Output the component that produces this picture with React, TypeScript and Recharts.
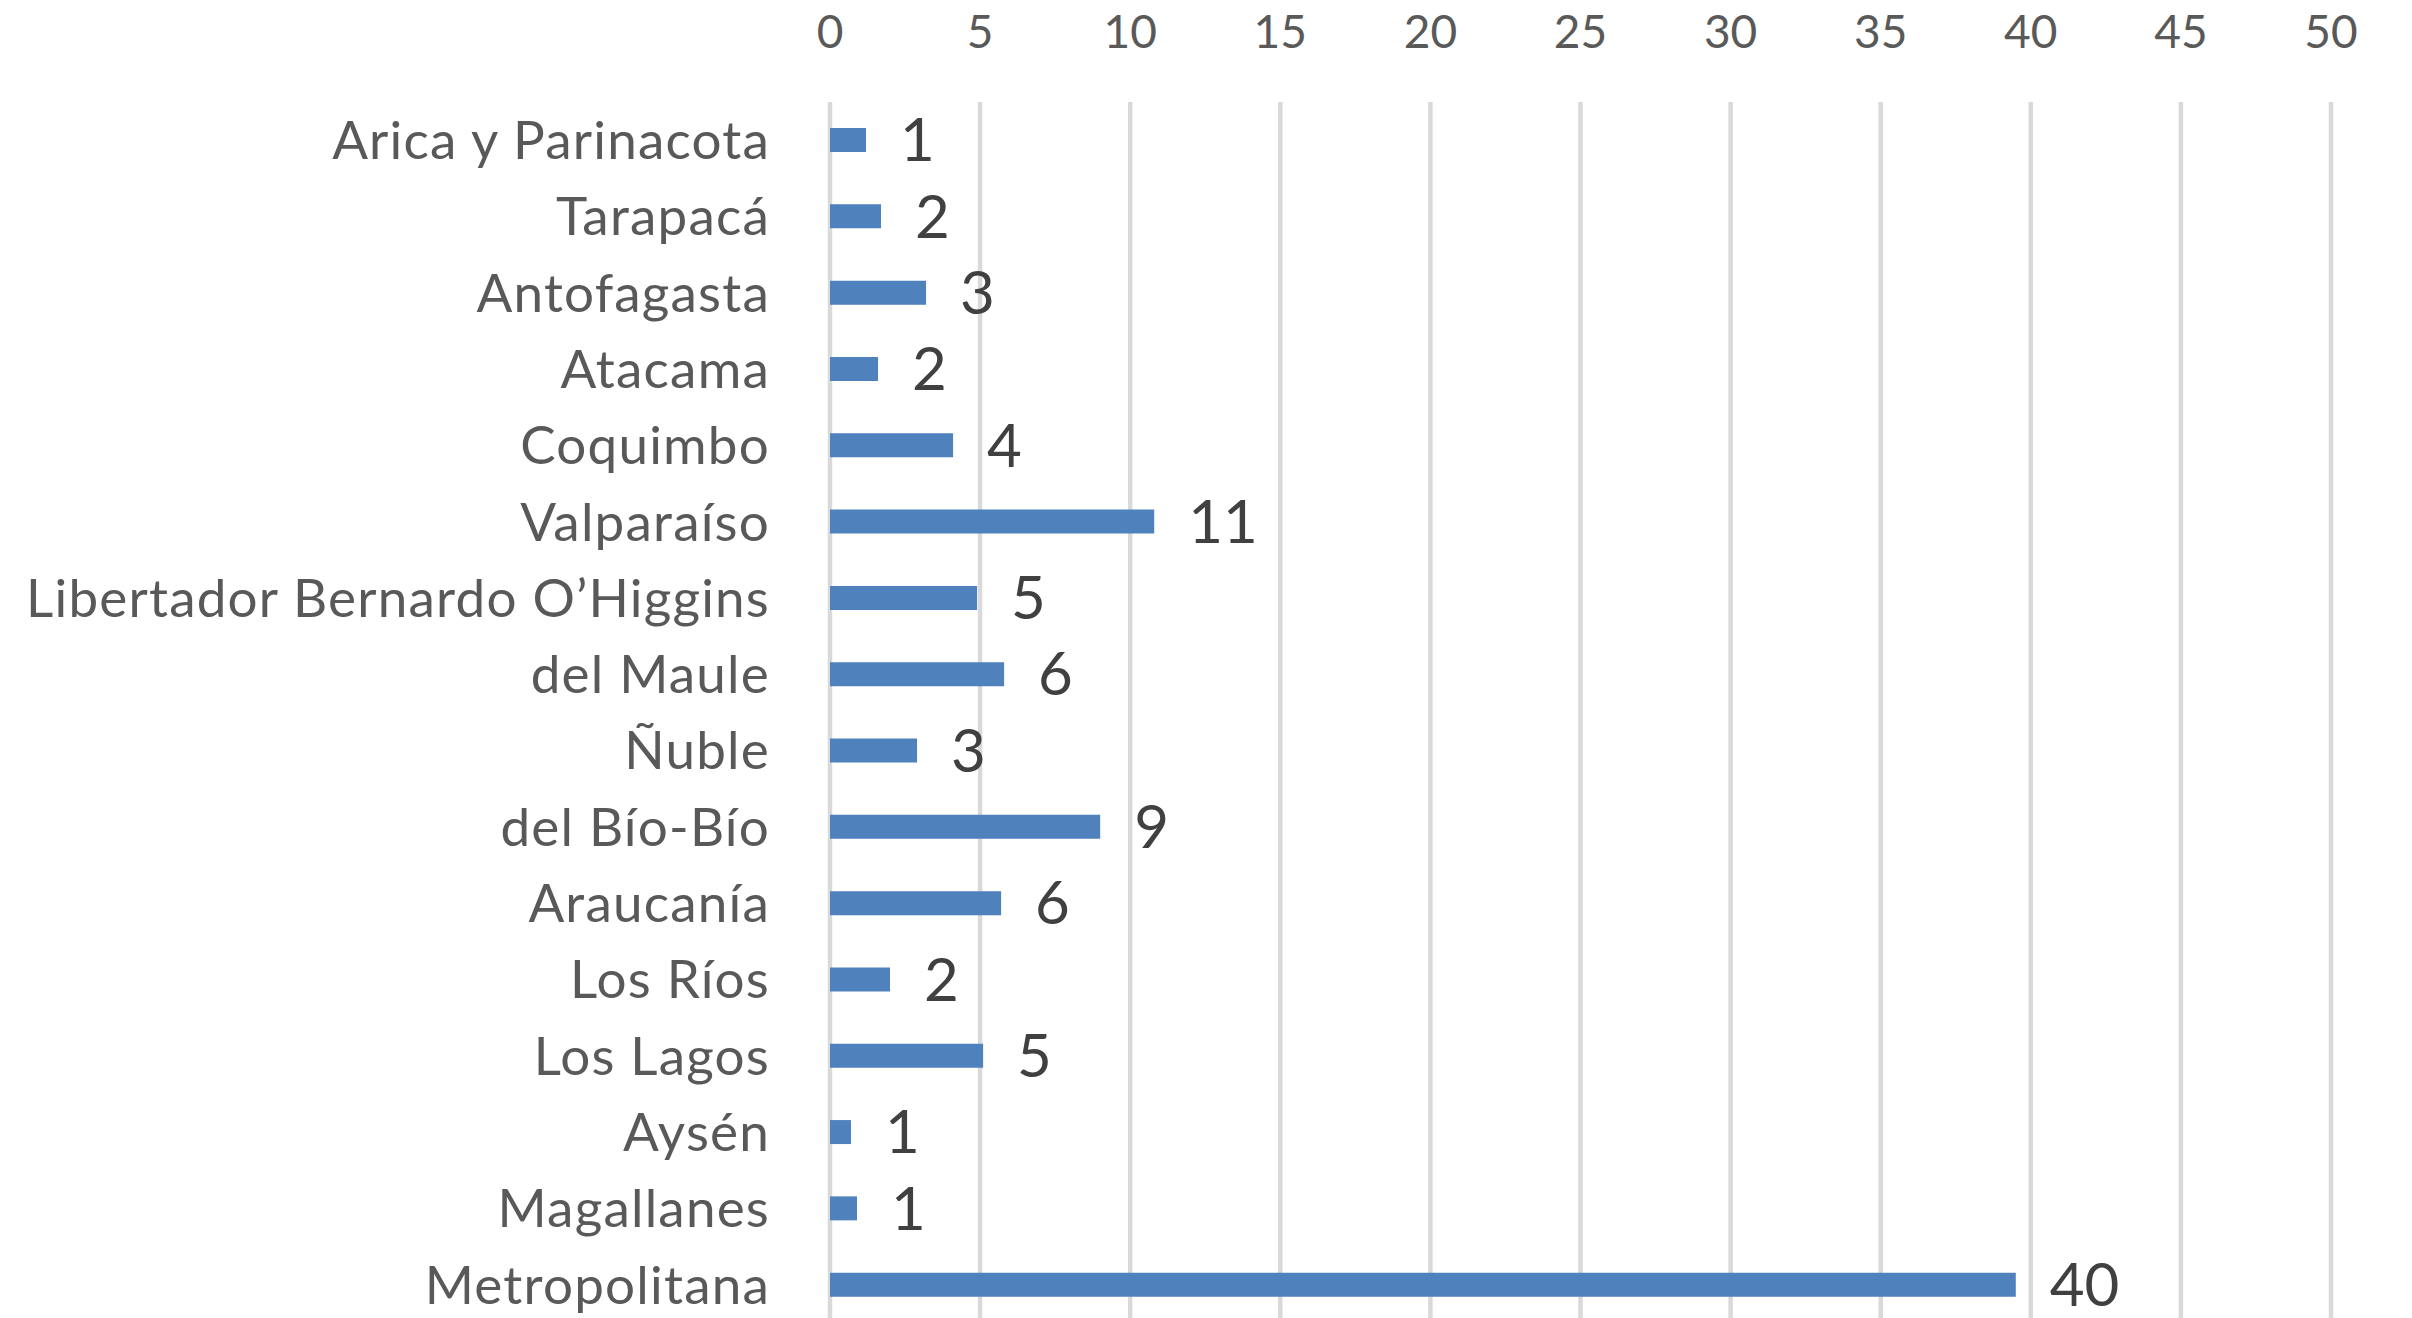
import { BarChart, Bar, XAxis, YAxis, CartesianGrid, LabelList } from 'recharts';

// Regions in chart order (top to bottom)
const regions = [
  'Arica y Parinacota',
  'Tarapacá',
  'Antofagasta',
  'Atacama',
  'Coquimbo',
  'Valparaíso',
  'Libertador Bernardo O’Higgins',
  'del Maule',
  'Ñuble',
  'del Bío-Bío',
  'Araucanía',
  'Los Ríos',
  'Los Lagos',
  'Aysén',
  'Magallanes',
  'Metropolitana',
];

// values (labels show them rounded)
const values = [1.2, 1.7, 3.2, 1.6, 4.1, 10.8, 4.9, 5.8, 2.9, 9.0, 5.7, 2.0, 5.1, 0.7, 0.9, 39.5];

const xTicks = [0, 5, 10, 15, 20, 25, 30, 35, 40, 45, 50];

const data = regions.map((name, i) => ({ name, value: values[i] }));

const FONT = 'Lato, "Open Sans", sans-serif';

export default function App() {
  return (
    <div style={{ position: 'absolute', top: 0, left: 0, width: 2412, height: 1318, overflow: 'hidden', background: '#fff' }}>
      <BarChart
        width={2412}
        height={1323}
        data={data}
        layout="vertical"
        margin={{ top: 0, right: 81, bottom: 0, left: 0 }}
        barCategoryGap={0}
      >
        <CartesianGrid horizontal={false} stroke="#D9D9D9" strokeWidth={4.5} />
        <XAxis
          type="number"
          orientation="top"
          domain={[0, 50]}
          ticks={xTicks}
          height={102}
          axisLine={false}
          tickLine={false}
          tickSize={0}
          tickMargin={54}
          interval={0}
          tick={{ fill: '#595959', fontSize: 46, fontFamily: FONT }}
        />
        <YAxis
          type="category"
          dataKey="name"
          width={830}
          axisLine={false}
          tickLine={false}
          tickSize={0}
          tickMargin={60}
          interval={0}
          tick={{ fill: '#595959', fontSize: 53, fontFamily: FONT, letterSpacing: 1.2 }}
        />
        <Bar dataKey="value" fill="#4F81BD" barSize={24} isAnimationActive={false}>
          <LabelList
            dataKey="value"
            position="right"
            offset={34}
            formatter={(v: number) => Math.round(v)}
            style={{ fill: '#404040', fontSize: 60, fontFamily: FONT }}
          />
        </Bar>
      </BarChart>
    </div>
  );
}
